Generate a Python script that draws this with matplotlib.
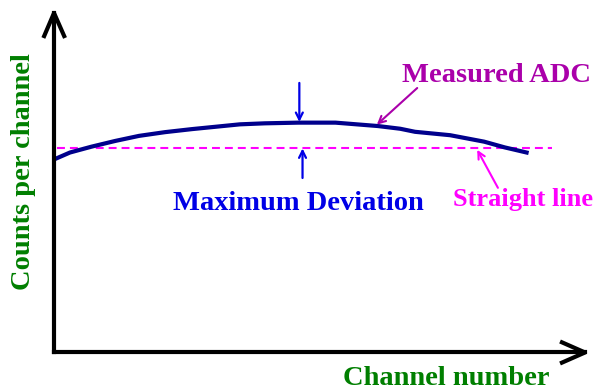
import matplotlib
matplotlib.use("Agg")
import matplotlib.pyplot as plt

# Measured ADC response (channel number vs counts, arbitrary units)
channel = [0.5, 3.0, 7, 11.5, 16, 20.9, 26, 35, 39.7, 46, 53, 61, 65.2,
           68, 74.6, 81, 84.9, 89]
counts = [57.2, 58.9, 60.6, 62.3, 63.8, 64.9, 65.8, 67.2, 67.5, 67.7, 67.7,
          66.7, 65.9, 65.0, 64.0, 62.1, 60.4, 58.9]

# Ideal straight line
line_x = [0.6, 93.8]
line_y = [60.3, 60.3]

# Maximum deviation markers (x, top, bottom)
dev_x = 46.5
dev_top = 67.9
dev_bottom = 60.1

plt.rcParams['font.family'] = ['Liberation Serif', 'DejaVu Serif']
plt.rcParams['font.weight'] = 'bold'

fig = plt.figure(figsize=(5.95, 3.9), dpi=100)
ax = fig.add_axes([0.0908, 0.0962, 0.8924, 0.8705])
ax.set_xlim(0, 100)
ax.set_ylim(0, 100)
ax.set_xticks([])
ax.set_yticks([])
for s in ['top', 'right']:
    ax.spines[s].set_visible(False)
for s in ['left', 'bottom']:
    ax.spines[s].set_linewidth(3)
    ax.spines[s].set_color('black')

# open arrowheads on both axes
tr = ax.transAxes
ax.plot([-0.0201, 0, 0.0207], [0.9264, 1, 0.9264], color='black', lw=3,
        transform=tr, clip_on=False, solid_capstyle='butt')
ax.plot([0.953, 1, 0.953], [0.0324, 0, -0.0324], color='black', lw=3,
        transform=tr, clip_on=False, solid_capstyle='butt')

ax.plot(line_x, line_y, color='#FF00FF', lw=1.5, dashes=(3.8, 2.4))
ax.plot(channel, counts, color='#00008C', lw=3, solid_joinstyle='round')

# deviation arrows
blue_arrow = dict(arrowstyle='->,head_length=0.5,head_width=0.25',
                  color='#0000E6', lw=1.6, shrinkA=0, shrinkB=0)
ax.annotate('', xy=(dev_x - 0.3, dev_top), xytext=(dev_x - 0.3, 79.4),
            arrowprops=blue_arrow)
ax.annotate('', xy=(dev_x + 0.3, dev_bottom), xytext=(dev_x + 0.3, 51.4),
            arrowprops=blue_arrow)

ax.annotate('', xy=(60.8, 67.1), xytext=(68.4, 77.9),
            arrowprops=dict(arrowstyle='->,head_length=0.5,head_width=0.25',
                            color='#AA00AA', lw=1.5, shrinkA=0, shrinkB=0))
ax.annotate('', xy=(79.7, 59.7), xytext=(83.6, 48.5),
            arrowprops=dict(arrowstyle='->,head_length=0.5,head_width=0.25',
                            color='#FF00FF', lw=1.5, shrinkA=0, shrinkB=0))

ax.text(65.5, 79.8, 'Measured ADC', color='#AA00AA', fontsize=20.5,
        fontweight='bold', va='baseline', ha='left', clip_on=False)
ax.text(22.4, 41.9, 'Maximum Deviation', color='#0000E6', fontsize=20.5,
        fontweight='bold', va='baseline', ha='left')
ax.text(75.1, 43.0, 'Straight line', color='#FF00FF', fontsize=19,
        fontweight='bold', va='baseline', ha='left', clip_on=False)
ax.text(54.4, -9.7, 'Channel number', color='#007F00', fontsize=20.5,
        fontweight='bold', va='baseline', ha='left', clip_on=False)
ax.text(-5.84, 53.3, 'Counts per channel', color='#007F00', fontsize=20.5,
        fontweight='bold', va='center', ha='center', rotation=90,
        clip_on=False)

fig.savefig('out.png', dpi=100)
